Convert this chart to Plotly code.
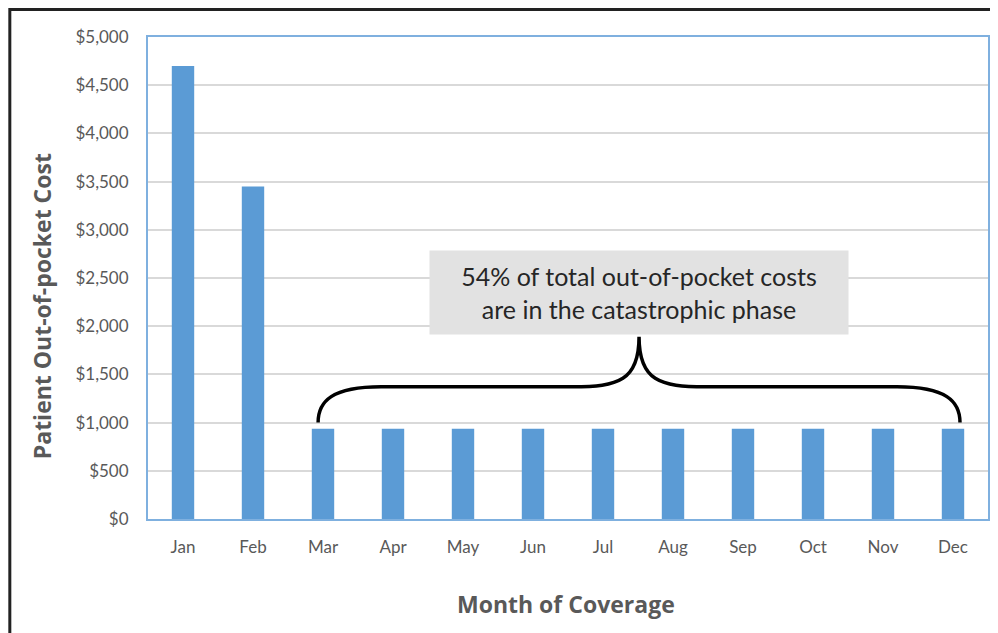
import plotly.graph_objects as go

months = ["Jan", "Feb", "Mar", "Apr", "May", "Jun", "Jul", "Aug", "Sep", "Oct", "Nov", "Dec"]
costs = [4700, 3450, 935, 935, 935, 935, 935, 935, 935, 935, 935, 935]
y_ticks = [0, 500, 1000, 1500, 2000, 2500, 3000, 3500, 4000, 4500, 5000]
y_tick_labels = ["$0", "$500", "$1,000", "$1,500", "$2,000", "$2,500", "$3,000",
                 "$3,500", "$4,000", "$4,500", "$5,000"]
note_text = "54% of total out-of-pocket costs<br>are in the catastrophic phase"
x_title = "Month of Coverage"
y_title = "Patient Out-of-pocket Cost"

x_pos = list(range(len(months)))
FONT = "Lato, 'Open Sans', sans-serif"
TFONT = "'Open Sans', Lato, sans-serif"
GRAY = "#595959"

fig = go.Figure()
fig.add_trace(go.Bar(x=x_pos, y=costs, marker=dict(color="#5b9bd5", line=dict(width=0)),
                     hoverinfo="x+y"))

# brace over the catastrophic-phase months (Mar..Dec)
x0, x1 = 1.93, 11.1
xm = (x0 + x1) / 2
yb, yh, yt = 1000, 1372, 1890
brace = (f"M {x0},{yb} C {x0},{yh-150} {x0+0.2},{yh} {x0+0.9},{yh} "
         f"L {xm-0.95},{yh} C {xm-0.3},{yh} {xm},{yh+60} {xm},{yt} "
         f"C {xm},{yh+60} {xm+0.3},{yh} {xm+0.95},{yh} "
         f"L {x1-0.9},{yh} C {x1-0.2},{yh} {x1},{yh-150} {x1},{yb}")

fig.update_layout(
    width=990, height=625,
    margin=dict(l=140, r=8, t=29, b=114),
    paper_bgcolor="white", plot_bgcolor="white",
    showlegend=False,
    bargap=0.68,
    font=dict(family=FONT, color=GRAY),
    shapes=[
        dict(type="path", xref="x", yref="y", path=brace,
             line=dict(color="black", width=3.5), layer="above"),
        dict(type="rect", xref="paper", yref="paper",
             x0=-0.1645, x1=1.03, y0=-0.28, y1=1.057,
             line=dict(color="#222222", width=3), layer="below"),
    ],
    annotations=[
        dict(x=xm, y=2349, xref="x", yref="y", text=note_text, showarrow=False,
             bgcolor="#e2e2e2", width=410, height=75, borderpad=4,
             font=dict(family=FONT, size=25, color="#262626"), align="center"),
        dict(x=0.4976, y=-0.176, xref="paper", yref="paper", text="<b>" + x_title + "</b>",
             showarrow=False, xanchor="center", yanchor="middle",
             font=dict(family=TFONT, size=23, color=GRAY)),
        dict(x=-0.1259, y=0.442, xref="paper", yref="paper", text="<b>" + y_title + "</b>",
             showarrow=False, xanchor="center", yanchor="middle", textangle=-90,
             font=dict(family=TFONT, size=23, color=GRAY)),
    ],
)

fig.update_xaxes(
    range=[-0.5, 11.5], tickmode="array", tickvals=x_pos, ticktext=months,
    showline=True, linecolor="#7fb0df", linewidth=2, mirror=True,
    showgrid=False, ticks="", ticklabelstandoff=12,
    tickfont=dict(size=17, color=GRAY, family=FONT),
)
fig.update_yaxes(
    range=[0, 5000], tickmode="array", tickvals=y_ticks, ticktext=y_tick_labels,
    showline=True, linecolor="#7fb0df", linewidth=2, mirror=True,
    showgrid=True, gridcolor="#d9d9d9", gridwidth=1.5, zeroline=False,
    ticks="", ticklabelstandoff=14,
    tickfont=dict(size=17, color=GRAY, family=FONT),
)

fig.write_html("out.html")
